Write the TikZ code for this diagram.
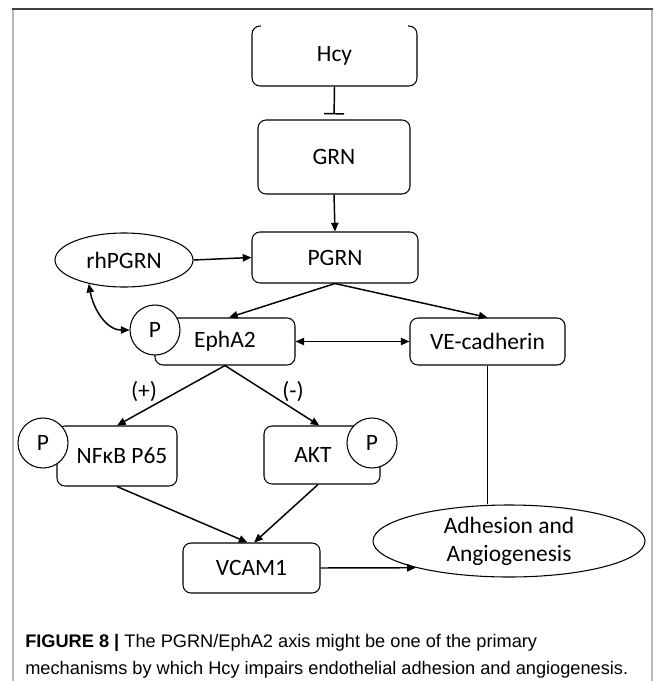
\documentclass[tikz,border=0pt]{standalone}
\usepackage{fontspec}
\setmainfont{Carlito}
\newfontfamily\capfont{Liberation Sans}
\usetikzlibrary{arrows.meta,shapes.geometric,calc}
\begin{document}
\begin{tikzpicture}[x=0.75pt,y=-0.75pt,
  every node/.style={font=\fontsize{17.6}{21}\selectfont},
  box/.style={draw, rounded corners=6pt, line width=0.8pt, inner sep=0pt, align=center},
  oval/.style={draw, ellipse, line width=0.8pt, inner sep=0pt, align=center},
  pcirc/.style={draw, circle, fill=white, line width=0.8pt, minimum size=37.5pt, inner sep=0pt},
  arr/.style={line width=1.1pt, -{Triangle[length=6.5pt,width=5.5pt]}},
  darr/.style={line width=1.1pt, {Triangle[length=6.5pt,width=5.5pt]}-{Triangle[length=6.5pt,width=5.5pt]}},
  inh/.style={line width=1.1pt, -{Bar[width=15pt,line width=1.1pt]}, shorten >=3.75pt},
  lbl/.style={inner sep=0pt},
  capstyle/.style={anchor=base west, inner sep=0pt, font=\capfont\fontsize{13.65}{16}\selectfont},
]
\useasboundingbox (0,0) rectangle (665,681);
% frame
\draw[gray!55, line width=1.5pt] (13,9) -- (13,681);
\draw[gray!55, line width=1.5pt] (652,9) -- (652,681);
\draw[black!75, line width=1pt] (12,9) -- (653,9);

% boxes
\node[box, minimum width=123.75pt, minimum height=45pt] (hcy) at (334.5,56) {Hcy};
\draw[white, line width=2pt] ([xshift=7pt]hcy.north west) -- ([xshift=-7pt]hcy.north east);
\node[box, minimum width=114pt, minimum height=55.5pt] (grn) at (334,157) {GRN};
\node[box, minimum width=124.5pt, minimum height=38.25pt] (pgrn) at (335,257.5) {PGRN};
\node[oval, minimum width=103.5pt, minimum height=40.5pt] (rhpgrn) at (124,260) {rhPGRN};
\node[box, minimum width=105pt, minimum height=35.25pt] (epha2) at (225,341.5) {EphA2};
\node[box, minimum width=116.25pt, minimum height=35.25pt] (ve) at (487.5,341.5) {VE-cadherin};
\node[box, minimum width=90pt, minimum height=45pt] (nfkb) at (117,456) {\hspace*{7.5pt}NFκB P65};
\node[box, minimum width=87pt, minimum height=43.5pt] (akt) at (322,455) {\hspace*{-13.5pt}AKT};
\node[box, minimum width=102.75pt, minimum height=37.5pt] (vcam) at (251.5,568) {VCAM1};
\node[oval, minimum width=204pt, minimum height=54pt] (adh) at (509,541) {Adhesion and\\Angiogenesis};

% phosphate circles
\node[pcirc] (pE) at (155,330) {P};
\node[pcirc] (pN) at (43,443) {P};
\node[pcirc] (pA) at (372,443) {P};

% labels
\node[lbl] (plus) at (144,392) {(+)};
\node[lbl] (minus) at (293,392) {(-)};

% connectors
\draw[inh] (hcy.south) -- (grn.north);
\draw[arr] (grn.south) -- (pgrn.north);
\draw[arr] (rhpgrn.east) -- (pgrn.west);
\draw[darr] (rhpgrn.214) to[out=-80,in=180] (pE.west);
\draw[arr] (pgrn.south) -- ([xshift=3pt]epha2.north);
\draw[arr] (pgrn.south) -- (ve.north);
\draw[darr] (epha2.east) -- (ve.west);
\draw[arr] (epha2.south) -- (nfkb.north);
\draw[arr] (epha2.south) -- ([xshift=-2pt]akt.north);
\draw[line width=1.1pt] (ve.south) -- (ve.south |- adh.north);
\draw[arr] (nfkb.south) -- ([xshift=-3pt]vcam.north);
\draw[arr] ([xshift=-3pt]akt.south) -- ([xshift=2pt]vcam.north);
\draw[arr] (vcam.east) -- (adh.196);

% caption
\node[capstyle] (cap1) at (25,647) {\textbf{FIGURE 8 |} The PGRN/EphA2 axis might be one of the primary};
\node[capstyle] (cap2) at (25,674) {mechanisms by which Hcy impairs endothelial adhesion and angiogenesis.};
\end{tikzpicture}
\end{document}
